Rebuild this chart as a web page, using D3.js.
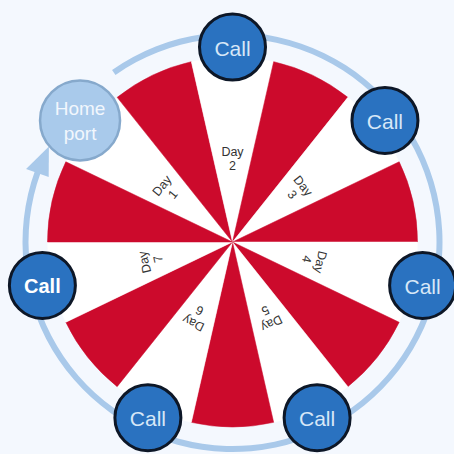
<!DOCTYPE html>
<html><head><meta charset="utf-8">
<script src="https://cdn.jsdelivr.net/npm/d3@7"></script>
<style>html,body{margin:0;padding:0;background:#f4f8fe;}svg{display:block;}</style>
</head><body>
<svg id="c" width="454" height="454"></svg>
<script>
// Data
const days = ["1", "2", "3", "4", "5", "6", "7"];
const stops = ["Home port", "Call", "Call", "Call", "Call", "Call", "Call"];
const segmentKinds = ["day","gap","day","gap","day","gap","day","gap","day","gap","day","gap","day","gap"];
const segmentValues = [1,1,1,1,1,1,1,1,1,1,1,1,1,1];
const ringStartDeg = -35;
const ringEndDeg = 290;

const W = 454, H = 454, cx = 232.5, cy = 242;
const svg = d3.select("#c");
svg.append("rect").attr("width", W).attr("height", H).attr("fill", "#f4f8fe");
const g = svg.append("g").attr("transform", `translate(${cx},${cy})`);

const rad = d3.scaleLinear().domain([0, 360]).range([0, 2 * Math.PI]);
const startA = rad(-64.2857);
const pie = d3.pie().sort(null).value(d => d).startAngle(startA).endAngle(startA + 2 * Math.PI);
const arcs = pie(segmentValues);
const R = 185;
const arc = d3.arc().innerRadius(0).outerRadius(R);

g.selectAll("path.seg").data(arcs).join("path")
  .attr("class", "seg")
  .attr("d", arc)
  .attr("fill", (d, i) => segmentKinds[i] === "day" ? "#ffffff" : "#cc0a2c")
  .attr("stroke", (d, i) => segmentKinds[i] === "day" ? "#ffffff" : "#cc0a2c")
  .attr("stroke-width", 0.5);

const dayArcs = arcs.filter((d, i) => segmentKinds[i] === "day");
const deg = a => a * 180 / Math.PI;

// Day labels
dayArcs.forEach((d, i) => {
  const mid = (d.startAngle + d.endAngle) / 2;
  const t = g.append("g").attr("transform", `rotate(${deg(mid)})`);
  t.append("text").attr("x", 0).attr("y", -90).attr("text-anchor", "middle")
    .attr("dominant-baseline", "central")
    .attr("font-family", "Liberation Sans, Arial, sans-serif").attr("font-size", 12.5)
    .attr("fill", "#333").text("Day");
  t.append("text").attr("x", 0).attr("y", -76).attr("text-anchor", "middle")
    .attr("dominant-baseline", "central")
    .attr("font-family", "Liberation Sans, Arial, sans-serif").attr("font-size", 12.5)
    .attr("fill", "#333").text(days[i]);
});

// Ring with arrow
const ringArc = d3.arc().innerRadius(204).outerRadius(210)
  .startAngle(rad(ringStartDeg)).endAngle(rad(ringEndDeg));
g.append("path").attr("d", ringArc()).attr("fill", "#a9c9ea");
const polar = (r, a) => [r * Math.sin(rad(a)), -r * Math.cos(rad(a))];
const tip = polar(207, 297.5), b1 = polar(195, ringEndDeg - 0.5), b2 = polar(219, ringEndDeg - 0.5);
g.append("path").attr("d", `M${tip}L${b1}L${b2}Z`).attr("fill", "#a9c9ea");

// Stops
const stopR = 195;
dayArcs.forEach((d, i) => {
  const mid = deg((d.startAngle + d.endAngle) / 2);
  const [x, y] = polar(stopR, mid);
  const home = stops[i] === "Home port";
  const sg = g.append("g").attr("transform", `translate(${x},${y})`);
  if (home) {
    sg.append("circle").attr("r", 40).attr("fill", "#a9caeb").attr("stroke", "#86a9cc").attr("stroke-width", 2.5);
    ["Home", "port"].forEach((w, k) => {
      sg.append("text").attr("y", k === 0 ? -12 : 13).attr("text-anchor", "middle")
        .attr("dominant-baseline", "central")
        .attr("font-family", "Liberation Sans, Arial, sans-serif").attr("font-size", 19)
        .attr("fill", "#f2f7fd").text(w);
    });
  } else {
    sg.append("circle").attr("r", 33).attr("fill", "#2a72c0").attr("stroke", "#0d1727").attr("stroke-width", 3);
    const bold = i === 6;
    sg.append("text").attr("y", 1).attr("text-anchor", "middle")
      .attr("dominant-baseline", "central")
      .attr("font-family", "Liberation Sans, Arial, sans-serif").attr("font-size", bold ? 20 : 21)
      .attr("font-weight", bold ? "bold" : "normal")
      .attr("fill", bold ? "#ffffff" : "#d7e7f7").text(stops[i]);
  }
});
</script>
</body></html>
